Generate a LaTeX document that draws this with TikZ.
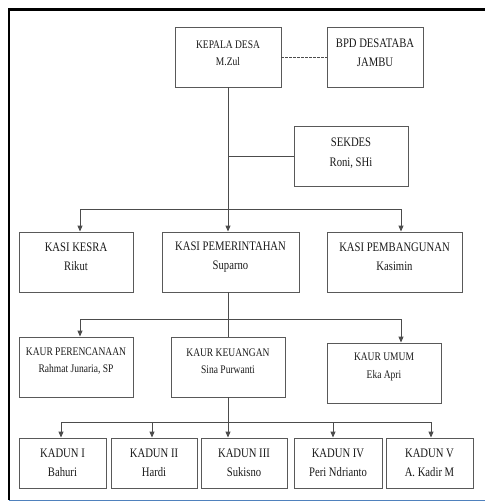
\documentclass[tikz,border=0pt]{standalone}
\usepackage{fontspec}
\setmainfont[FakeStretch=0.82]{Liberation Serif}
\usetikzlibrary{arrows.meta}
\definecolor{framblue}{RGB}{79,129,189}
\begin{document}
\begin{tikzpicture}[x=1pt,y=-1pt,
  box/.style={draw=black!65,line width=0.9pt,rectangle,inner sep=0pt,minimum height=60pt},
  lbl/.style={align=center,inner sep=0pt,font=\fontsize{13}{19.5}\selectfont,text=black!90},
  lblk/.style={align=center,inner sep=0pt,font=\fontsize{11.6}{17.5}\selectfont,text=black!90},
  conn/.style={draw=black!70,line width=0.9pt},
  arr/.style={conn,-{Triangle[width=5pt,length=6pt]}}]
\useasboundingbox (0,0) rectangle (485,503);
% outer frame
\draw[line width=2.6pt] (9,500) -- (9,9.5) -- (485,9.5);
\draw[line width=1.2pt,draw=framblue] (9,500.5) -- (485,500.5);
% boxes
\node[box,minimum width=106pt] (kd) at (228,57) {};
\node[box,minimum width=96pt] (bpd) at (375,57) {};
\node[box,minimum width=114pt] (sk) at (351,156) {};
\node[box,minimum width=114pt] (ks) at (76,262) {};
\node[box,minimum width=137pt] (kp) at (230.5,262) {};
\node[box,minimum width=135pt] (kb) at (394.5,262) {};
\node[box,minimum width=114pt] (kr) at (76,367) {};
\node[box,minimum width=114pt] (kk) at (228,367) {};
\node[box,minimum width=114pt] (ku) at (384,373) {};
\node[box,minimum width=87pt,minimum height=50pt] (k1) at (62.5,463) {};
\node[box,minimum width=86pt,minimum height=50pt] (k2) at (154,463) {};
\node[box,minimum width=86pt,minimum height=50pt] (k3) at (244,463) {};
\node[box,minimum width=88pt,minimum height=50pt] (k4) at (338,463) {};
\node[box,minimum width=87pt,minimum height=50pt] (k5) at (429.5,463) {};
% labels
\node[lblk] (kdt) at ([yshift=4pt]kd.center) {KEPALA DESA\\M.Zul};
\node[lbl] (bpdt) at ([yshift=4pt]bpd.center) {BPD DESATABA\\JAMBU};
\node[lbl] (skt) at ([yshift=3pt]sk.center) {SEKDES\\Roni, SHi};
\node[lbl] (kst) at ([yshift=5pt]ks.center) {KASI KESRA\\Rikut};
\node[lbl] (kpt) at ([yshift=5pt]kp.center) {KASI PEMERINTAHAN\\Suparno};
\node[lbl] (kbt) at ([yshift=5pt]kb.center) {KASI PEMBANGUNAN\\Kasimin};
\node[lblk] (krt) at ([yshift=6pt]kr.center) {KAUR PERENCANAAN\\Rahmat Junaria, SP};
\node[lblk] (kkt) at ([yshift=6pt]kk.center) {KAUR KEUANGAN\\Sina Purwanti};
\node[lblk] (kut) at ([yshift=6pt]ku.center) {KAUR UMUM\\Eka Apri};
\node[lbl] (k1t) at (k1.center) {KADUN I\\Bahuri};
\node[lbl] (k2t) at (k2.center) {KADUN II\\Hardi};
\node[lbl] (k3t) at (k3.center) {KADUN III\\Sukisno};
\node[lbl] (k4t) at (k4.center) {KADUN IV\\Peri Ndrianto};
\node[lbl] (k5t) at (k5.center) {KADUN V\\A. Kadir M};
% connector coordinates
\coordinate (b1) at (228,209);
\coordinate (b2) at (228,319);
\coordinate (b3) at (228,422);
\coordinate (xl) at (80,0);
\coordinate (xr) at (401,0);
\coordinate (x1) at (61,0);
\coordinate (x2) at (152,0);
\coordinate (x4) at (333,0);
\coordinate (x5) at (431,0);
% connectors
\draw[conn,dashed,dash pattern=on 2.5pt off 1.5pt] (kd.east) -- (bpd.west);
\draw[arr] (kd.south) -- (b1 |- kp.north);
\draw[conn] (kd.south |- sk.west) -- (sk.west);
\draw[arr] (b1) -| (xl |- ks.north);
\draw[arr] (b1) -| (xr |- kb.north);
\draw[conn] (b1 |- kp.south) -- (kk.north);
\draw[arr] (b2) -| (xl |- kr.north);
\draw[arr] (b2) -| (xr |- ku.north);
\draw[arr] (kk.south) -- (b3 |- k3.north);
\draw[arr] (b3) -| (x1 |- k1.north);
\draw[arr] (b3) -| (x2 |- k2.north);
\draw[arr] (b3) -| (x4 |- k4.north);
\draw[arr] (b3) -| (x5 |- k5.north);
\end{tikzpicture}
\end{document}
